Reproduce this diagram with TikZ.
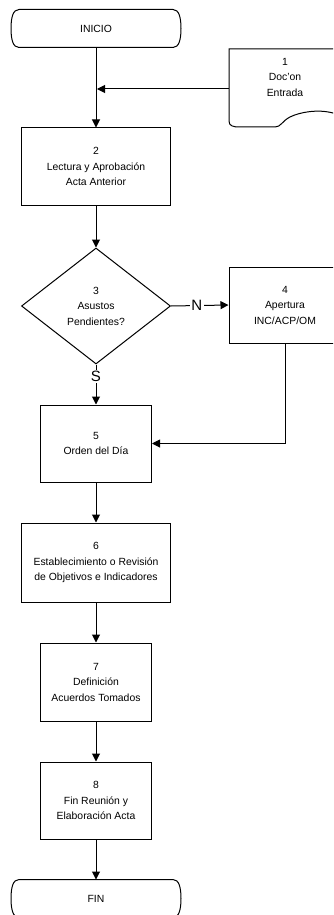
\documentclass[tikz,border=0pt]{standalone}
\usepackage{fontspec}
\setmainfont{Liberation Sans}
\usetikzlibrary{shapes.geometric,arrows.meta}
\begin{document}
\begin{tikzpicture}[x=1pt,y=-1pt,
  line width=1pt,
  every node/.style={font=\fontsize{10.4}{15.5}\selectfont, align=center},
  procbox/.style={draw, rectangle, inner sep=0pt},
  wide/.style={minimum width=149pt},
  narrow/.style={minimum width=111pt},
  termbox/.style={rectangle, inner sep=0pt, minimum width=169pt, minimum height=37pt},
  decision/.style={draw, diamond, inner sep=0pt, minimum width=149pt, minimum height=116pt},
  flow/.style={-{Triangle[length=8pt,width=8pt]}},
  branch/.style={fill=white, inner sep=1.5pt, font=\fontsize{15}{15}\selectfont}
]
\useasboundingbox (0,0) rectangle (333,915);
\clip (0,0) rectangle (333,915);

% terminals
\node[termbox] (inicio) at (96,28.5) {INICIO};
\node[termbox] (fin) at (96,898.5) {FIN};
\foreach \t in {inicio,fin}{
  \draw ([xshift=8pt]\t.north west) -- ([xshift=-8pt]\t.north east)
     .. controls +(6,0) and +(0,-11) .. (\t.east)
     .. controls +(0,11) and +(6,0) .. ([xshift=-8pt]\t.south east)
     -- ([xshift=8pt]\t.south west)
     .. controls +(-6,0) and +(0,11) .. (\t.west)
     .. controls +(0,-11) and +(-6,0) .. cycle;
}

% input document
\node[rectangle, inner sep=0pt, minimum width=112pt, minimum height=79pt] (doc) at (285,88.5) {};
\node (doctext) at (285,77) {1\\Doc'on\\Entrada};
\draw (341,49) -- (229,49) -- (229,121)
  .. controls (229,126) and (233,127) .. (240,127) -- (275,127)
  .. controls (281,127) and (282,121) .. (290,117)
  .. controls (300,112) and (318,109) .. (333,113) -- (341,116);

% process steps
\node[procbox, wide, minimum height=77pt] (b2) at (96,166.5) {2\\Lectura y Aprobación\\Acta Anterior};
\node[decision] (d3) at (96,306) {3\\Asustos\\Pendientes?};
\node[procbox, minimum width=112pt, minimum height=76pt] (b4) at (285,305) {4\\Apertura\\INC/ACP/OM};
\node[procbox, narrow, minimum height=77pt] (b5) at (96,443.5) {5\\Orden del Día};
\node[procbox, wide, minimum height=79pt] (b6) at (96,562.5) {6\\Establecimiento o Revisión\\de Objetivos e Indicadores};
\node[procbox, narrow, minimum height=78pt] (b7) at (96,682) {7\\Definición\\Acuerdos Tomados};
\node[procbox, narrow, minimum height=77pt] (b8) at (96,800.5) {8\\Fin Reunión y\\Elaboración Acta};

% connectors
\coordinate (join) at (96,89);
\draw[flow] (inicio.south) -- (b2.north);
\draw[flow] (doc.west |- join) -- ([xshift=1pt]join);
\draw[flow] (b2.south) -- (d3.north);
\draw[flow] (d3.east) -- node[branch, pos=0.45] {N} (b4.west);
\draw[flow] (d3.south) -- node[branch, pos=0.3] {S} (b5.north);
\draw[flow] (b4.south) |- (b5.east);
\draw[flow] (b5.south) -- (b6.north);
\draw[flow] (b6.south) -- (b7.north);
\draw[flow] (b7.south) -- (b8.north);
\draw[flow] (b8.south) -- (fin.north);
\end{tikzpicture}
\end{document}
